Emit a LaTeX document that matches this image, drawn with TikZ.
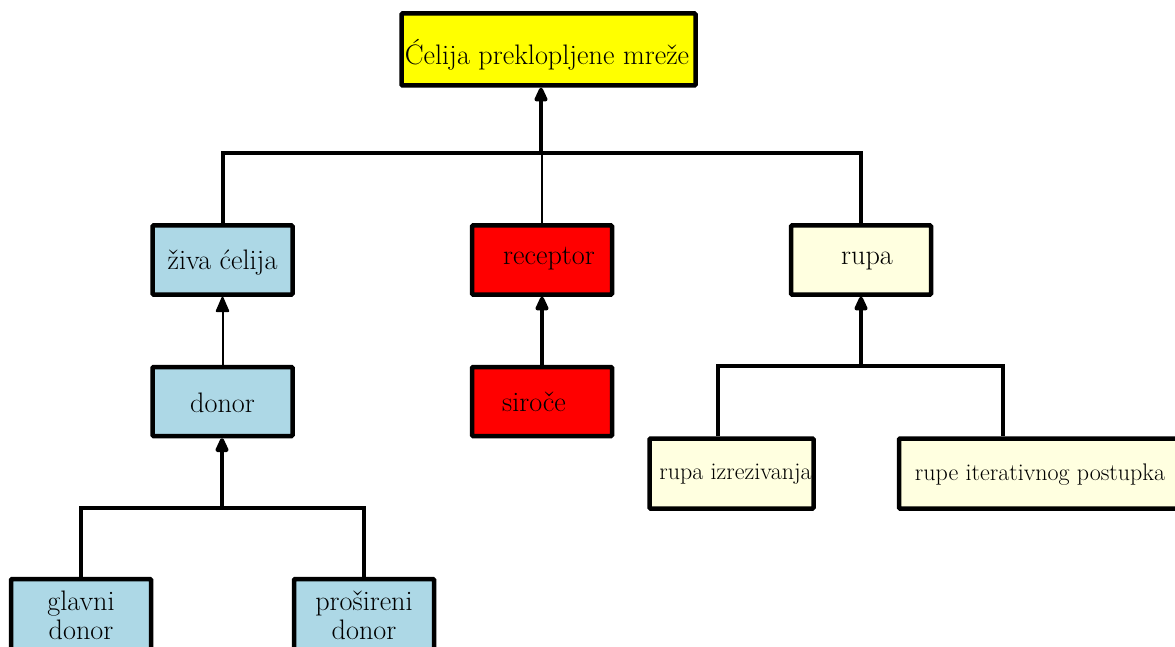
\documentclass[tikz,border=0pt]{standalone}
\usetikzlibrary{arrows.meta}
\definecolor{cyellow}{HTML}{FFFF00}
\definecolor{cred}{HTML}{FF0000}
\definecolor{cblue}{HTML}{ADD8E6}
\definecolor{clight}{HTML}{FFFFE0}
\begin{document}
\begin{tikzpicture}[x=1pt,y=-1pt,
  box/.style={draw=black,line width=4.5pt,rectangle,rounded corners=1pt,inner sep=0pt,
    minimum width=140pt,minimum height=69pt,align=center,
    font=\fontsize{28.2}{29}\selectfont},
  smallbox/.style={box,minimum width=164pt,minimum height=70pt,font=\fontsize{24}{26}\selectfont},
  lbl/.style={inner sep=0pt,align=center,font=\fontsize{28.2}{29}\selectfont},
  conn/.style={draw=black,line width=4pt},
  thinconn/.style={draw=black,line width=2pt},
  arr/.style={-{Triangle[length=17pt,width=14pt,round]}}]
\useasboundingbox (0,0) rectangle (1175,647);
\clip (0,0) rectangle (1175,647);
% boxes
\node[box,fill=cyellow,minimum width=294pt,minimum height=72pt] (top) at (548.5,49.5) {};
\node[lbl] (toptext) at (547,55) {Ćelija preklopljene mreže};
\node[box,fill=cblue,label={[lbl,yshift=-3pt]center:živa ćelija}] (ziva) at (222.5,260) {};
\node[box,fill=cred,label={[lbl,xshift=7pt,yshift=1pt]center:receptor}] (receptor) at (542,260) {};
\node[box,fill=clight,label={[lbl,xshift=6pt,yshift=-1pt]center:rupa}] (rupa) at (861,260) {};
\node[box,fill=cblue,label={[lbl,yshift=-1pt]center:donor}] (donor) at (222.5,401.5) {};
\node[box,fill=cred,label={[lbl,xshift=-8pt,yshift=0pt]center:siroče}] (siroce) at (542,401.5) {};
\node[smallbox,fill=clight,label={[lbl,font=\fontsize{24}{26}\selectfont,xshift=4pt,yshift=-1pt]center:rupa izrezivanja}] (izrez) at (731.5,473.5) {};
\node[smallbox,fill=clight,minimum width=282pt,label={[lbl,font=\fontsize{24}{26}\selectfont,yshift=-1pt]center:rupe iterativnog postupka}] (iter) at (1040,473.5) {};
\node[box,fill=cblue,minimum height=80pt,label={[lbl,yshift=4pt]center:glavni\\donor}] (glavni) at (81,619) {};
\node[box,fill=cblue,minimum height=80pt,label={[lbl,yshift=4pt]center:prošireni\\donor}] (prosireni) at (364,619) {};
% junction coordinates
\coordinate (b1) at (541,153);
\coordinate (b2) at (861,366);
\coordinate (b3) at (222,508);
% top level
\draw[conn] (ziva.north) -- (ziva.north |- b1) -- (rupa.north |- b1) -- (rupa.north);
\draw[thinconn] (receptor.north) -- (receptor.north |- b1);
\draw[conn,arr] (b1) -- (b1 |- top.south);
% left column
\draw[thinconn,arr] (donor.north) -- (ziva.south);
\draw[conn] (glavni.north) -- (glavni.north |- b3) -- (prosireni.north |- b3) -- (prosireni.north);
\draw[conn,arr] (b3) -- (b3 |- donor.south);
% middle column
\draw[conn,arr] (siroce.north) -- (receptor.south);
% right column
\draw[conn] (izrez.north -| 718,0) -- (718,366) -- (1003,366) -- (iter.north -| 1003,0);
\draw[conn,arr] (b2) -- (rupa.south);
\end{tikzpicture}
\end{document}
